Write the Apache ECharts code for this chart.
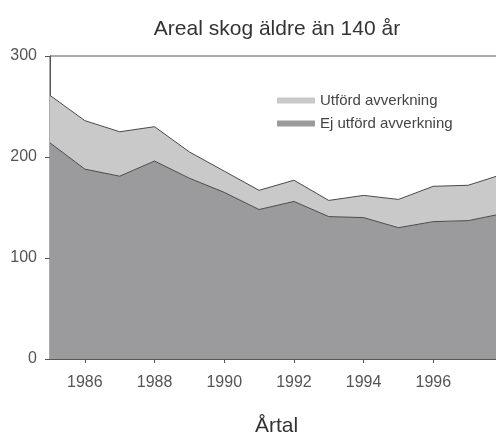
<!DOCTYPE html>
<html>
<head>
<meta charset="utf-8">
<script src="https://cdn.jsdelivr.net/npm/echarts@6/dist/echarts.min.js"></script>
<style>
html, body { margin: 0; padding: 0; background: #fff; }
#main { width: 496px; height: 434px; }
</style>
</head>
<body>
<div id="main"></div>
<script>
var years = ['1985', '1986', '1987', '1988', '1989', '1990', '1991', '1992', '1993', '1994', '1995', '1996', '1997', '1998'];
var ejUtford = [214, 188, 181, 196, 179, 165, 148, 156, 141, 140, 130, 136, 137, 144];
var utford = [47, 48, 44, 34, 26, 21, 19, 21, 16, 22, 28, 35, 35, 39];
var yTicks = [0, 100, 200, 300];

var myChart = echarts.init(document.getElementById('main'));
var font = '"Liberation Sans", Arial, sans-serif';
// only even years get a tick and a label; 1998 sits past the right edge
var evenYear = function (idx, val) { return Number(val) % 2 === 0 && val !== '1998'; };

var option = {
    animation: false,
    textStyle: { fontFamily: font },
    title: {
        text: 'Areal skog äldre än 140 år',
        left: 272,
        top: 14,
        textAlign: 'center',
        textStyle: { fontSize: 21, fontWeight: 'normal', color: '#333', fontFamily: font }
    },
    legend: {
        orient: 'vertical',
        left: 272,
        top: 88,
        itemWidth: 38,
        itemHeight: 6,
        itemGap: 8,
        icon: 'rect',
        data: ['Utförd avverkning', 'Ej utförd avverkning'],
        textStyle: { fontSize: 15, color: '#444', fontFamily: font }
    },
    grid: {
        left: 50,
        right: -7,
        top: 56,
        bottom: 75,
        outerBoundsMode: 'none',
        containLabel: false,
        show: true,
        borderColor: '#555',
        borderWidth: 1
    },
    xAxis: {
        type: 'category',
        boundaryGap: false,
        data: years,
        name: 'Årtal',
        nameLocation: 'middle',
        nameGap: 57,
        nameTextStyle: { fontSize: 21, color: '#333', fontFamily: font },
        axisLine: { lineStyle: { color: '#555' } },
        axisTick: { interval: evenYear, length: 4, lineStyle: { color: '#555' } },
        axisLabel: { interval: evenYear, margin: 16, fontSize: 16, color: '#555' },
        splitLine: { show: false }
    },
    yAxis: {
        type: 'value',
        min: yTicks[0],
        max: yTicks[yTicks.length - 1],
        interval: 100,
        axisLine: { show: true, lineStyle: { color: '#555' } },
        axisTick: { show: true, length: 5, lineStyle: { color: '#555' } },
        axisLabel: { margin: 13, fontSize: 16, color: '#555' },
        splitLine: { show: false }
    },
    series: [
        {
            name: 'Ej utförd avverkning',
            type: 'line',
            stack: 'tot',
            data: ejUtford,
            symbol: 'none',
            color: '#9b9b9d',
            lineStyle: { color: '#4a4a4a', width: 1 },
            areaStyle: { color: '#9b9b9d', opacity: 1 }
        },
        {
            name: 'Utförd avverkning',
            type: 'line',
            stack: 'tot',
            data: utford,
            symbol: 'none',
            color: '#c9c9c9',
            lineStyle: { color: '#4a4a4a', width: 1 },
            areaStyle: { color: '#c9c9c9', opacity: 1 }
        }
    ]
};

myChart.setOption(option);
</script>
</body>
</html>
